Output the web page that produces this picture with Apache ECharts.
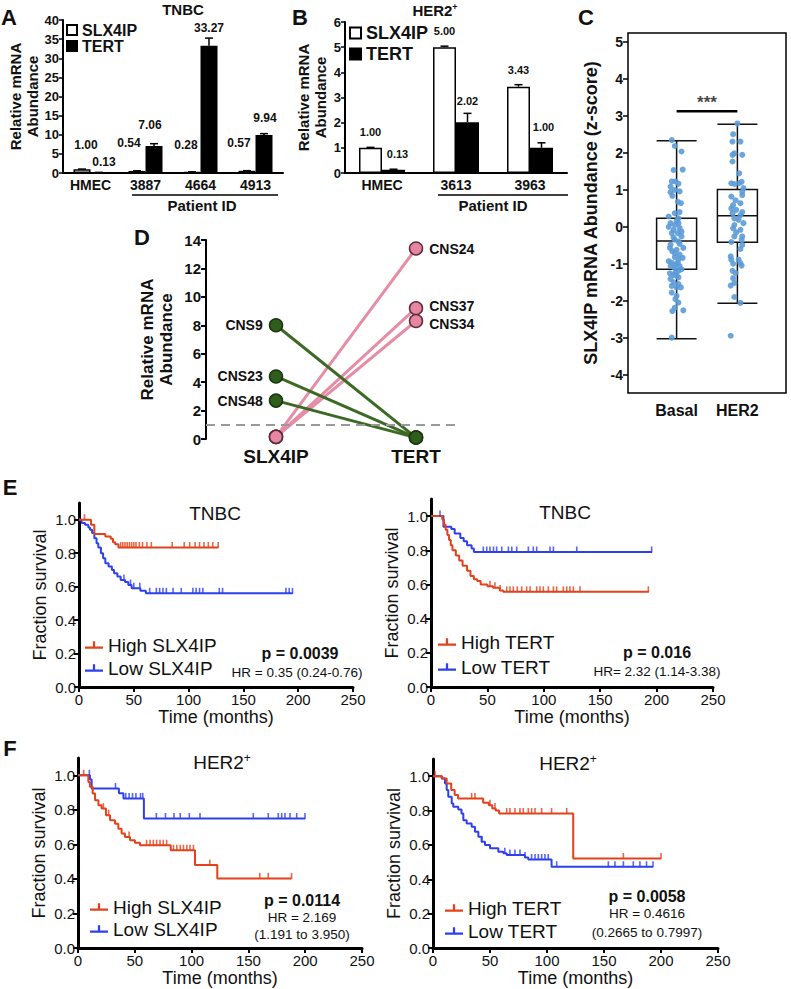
<!DOCTYPE html>
<html><head><meta charset="utf-8">
<script src="https://cdn.jsdelivr.net/npm/echarts@6/dist/echarts.min.js"></script>
<style>html,body{margin:0;padding:0;background:#fff}#c{width:791px;height:989px}</style>
</head><body><div id="c"></div>
<script>
// ---------- Panel A (TNBC qPCR) ----------
const catsA = ['HMEC', '3887', '4664', '4913'];
const slxA = [1.00, 0.54, 0.28, 0.57];
const tertA = [0.13, 7.06, 33.27, 9.94];
const slxErrA = [0.03, 0.04, 0.03, 0.04];
const tertErrA = [0.03, 0.6, 2.0, 0.35];
// ---------- Panel B (HER2+ qPCR) ----------
const catsB = ['HMEC', '3613', '3963'];
const slxB = [1.00, 5.00, 3.43];
const tertB = [0.13, 2.02, 1.00];
const slxErrB = [0.02, 0.04, 0.08];
const tertErrB = [0.02, 0.35, 0.2];
// ---------- Panel C (z-score box plot) ----------
const groupsC = ['Basal', 'HER2'];
const ticksC = [-4, -3, -2, -1, 0, 1, 2, 3, 4, 5];
const boxBasal = [-3.03, -1.15, -0.38, 0.23, 2.33];
const boxHER2 = [-2.07, -0.42, 0.30, 1.01, 2.78];
const sigC = 3.13;
const basalPts = [[0.92,2.35],[0.97,2.19],[1.08,2.04],[0.95,1.54],[1.10,1.55],[0.92,1.23],[0.98,1.23],[1.03,1.17],
 [0.90,0.94],[0.93,0.84],[1.05,0.96],[0.97,1.0],[1.07,0.64],[0.97,0.37],[1.05,0.40],[0.90,0.10],[1.00,0.16],
 [1.03,0.10],[0.95,-0.08],[1.05,-0.03],[0.92,-0.17],[1.02,-0.17],[1.08,-0.26],[0.97,-0.35],[0.90,-0.48],
 [1.05,-0.46],[1.11,-0.57],[1.00,-0.62],[0.93,-0.66],[1.05,-0.75],[0.97,-0.82],[1.03,-0.88],[0.92,-0.97],
 [0.98,-1.02],[1.05,-1.06],[0.90,-1.06],[0.97,-1.12],[1.03,-1.19],[0.89,-1.26],[0.95,-1.30],[1.00,-1.32],
 [0.90,-1.41],[1.03,-1.37],[0.95,-1.50],[1.03,-1.55],[1.00,-1.64],[0.92,-1.78],[0.98,-1.96],[1.03,-2.05],
 [0.93,-2.28],[1.11,-2.26],[0.92,-3.0],[0.87,0.28],[1.03,0.23],[0.97,0.05],[0.87,0.00],[1.08,-0.13],
 [0.95,-0.29],[1.03,-0.40],[0.89,-0.57],[0.97,-0.71],[1.10,-0.84],[0.87,-0.93],[1.02,-0.97],[1.08,-1.15],
 [0.98,-1.24],[0.92,-1.60],[1.07,-1.64],[1.00,-1.87],[0.97,-2.19],[0.90,1.09],[1.02,0.68]];
const her2Pts = [[2.00,2.80],[1.93,2.51],[1.92,2.31],[2.05,2.31],[1.95,1.99],[1.92,1.95],[2.08,1.95],[1.92,1.77],
 [1.90,1.18],[1.95,1.16],[2.07,1.22],[2.03,1.18],[2.08,0.95],[1.90,0.82],[2.08,0.86],[2.05,0.64],[1.93,0.59],
 [1.90,0.50],[1.98,0.46],[1.92,0.37],[2.05,0.32],[1.95,0.23],[2.02,0.19],[2.10,0.10],[1.95,0.05],[1.93,-0.04],
 [2.05,-0.08],[1.95,-0.26],[2.08,-0.26],[2.07,-0.35],[1.90,-0.41],[2.08,-0.49],[1.89,-0.80],[1.90,-0.89],
 [2.02,-0.89],[2.05,-0.98],[1.92,-1.19],[1.93,-1.39],[1.95,-1.52],[1.89,-1.59],[1.95,-1.90],[2.05,-2.06],
 [1.89,-2.95],[2.03,1.45],[1.97,0.72],[2.08,0.40],[1.98,-0.15],[2.05,-0.60],[1.93,-1.0],[2.07,-1.05],
 [1.97,-1.25],[2.10,1.05]];
// ---------- Panel D (paired samples) ----------
const genesD = ['SLX4IP', 'TERT'];
const samplesD = ['CNS24', 'CNS37', 'CNS34', 'CNS9', 'CNS23', 'CNS48'];
const slxD = [0.15, 0.15, 0.15, 8.0, 4.4, 2.7];
const tertD = [13.4, 9.2, 8.3, 0.1, 0.1, 0.1];
const refLineD = 1.0;
// ---------- Panels E/F (Kaplan-Meier) ----------
const kmXTicks = [0, 50, 100, 150, 200, 250];
const kmYTicks = [0, 0.2, 0.4, 0.6, 0.8, 1.0];
const kmE1High = [[0,1],[11,0.97],[14,0.914],[24,0.9],[29,0.886],[31,0.866],[33,0.854],[36,0.834],[127,0.834]];
const kmE1Low = [[0,1],[2.4,0.98],[5.5,0.97],[8.5,0.954],[10,0.94],[12,0.92],[14,0.89],[16,0.86],[17.6,0.834],
 [20,0.80],[22,0.77],[24,0.74],[27,0.72],[30,0.70],[32,0.68],[35,0.66],[38,0.64],[42,0.627],[45,0.61],[48,0.59],
 [56,0.575],[61,0.56],[195,0.56]];
const censE1High = [5,38,40,42,44,46,48,50,52,55,58,62,66,85,96,101,106,110,114,118,122,127];
const censE1Low = [41,47,50,55.5,64.5,70.6,73.6,76.6,79.7,85.8,93.3,103.9,106.9,110,113,128,131,188.8,191.8,194.8];
const kmE2High = [[0,1],[10,0.98],[11.5,0.95],[13,0.92],[14.5,0.89],[16,0.86],[17.5,0.83],[19,0.80],[22,0.77],
 [25,0.74],[28,0.71],[32,0.68],[35,0.65],[38,0.63],[41,0.62],[44,0.60],[50,0.59],[55,0.58],[61,0.565],[64,0.557],[193,0.557]];
const kmE2Low = [[0,1],[11,0.937],[18,0.924],[21,0.898],[26,0.872],[29,0.853],[32,0.83],[36,0.81],[38,0.79],[196,0.79]];
const censE2High = [52.3,56.7,61.2,67.1,70,73,76.5,80.4,84.8,87.8,93.7,96.6,99.6,104,108.5,111.4,117.3,120.3,123.2,126.2,132.1,192.7];
const censE2Low = [8,46.4,49.4,52.3,55.4,58.2,62.7,68.6,71.6,76,86.3,90.7,93.7,105.5,108.5,129.2,195.6];
const kmF1High = [[0,1],[9.1,0.961],[10.5,0.933],[12.9,0.894],[15,0.855],[18,0.827],[20.8,0.807],[24.6,0.769],
 [28.2,0.74],[32.6,0.72],[35.5,0.69],[38.4,0.663],[41.3,0.643],[45.8,0.624],[50.1,0.609],[54.6,0.595],[81.6,0.566],
 [103,0.48],[122.6,0.403],[188,0.403]];
const kmF1Low = [[0,1],[10.5,0.975],[12,0.923],[36,0.896],[40,0.866],[58,0.75],[200,0.75]];
const censF1High = [5,22.3,27,45,60.4,63.4,66.3,69.2,72.2,75.1,78,84,87,90,92.8,95.8,98.6,101.6,116,160,167.5,188];
const censF1Low = [10,33,42,45,48,51,55,57,69,77,84.5,90,98,107.4,154.3,167.5,176.3,179.3,182.2,186.6,192.5,199.8];
const kmF2High = [[0,1],[8,0.987],[12,0.957],[16,0.919],[19,0.89],[22,0.87],[44,0.845],[49,0.831],[52,0.812],
 [55,0.80],[58,0.783],[123,0.521],[200,0.521]];
const kmF2Low = [[0,1],[7.6,0.987],[10.5,0.957],[12,0.919],[13.4,0.88],[16.4,0.841],[17.8,0.822],[22.2,0.806],
 [25,0.783],[26.6,0.744],[29.5,0.725],[33.9,0.705],[36.8,0.676],[39.8,0.647],[42.7,0.618],[45.6,0.599],[50,0.58],
 [57.3,0.56],[61.7,0.551],[64.6,0.541],[80.7,0.527],[83.6,0.515],[104,0.473],[193,0.473]];
const censF2High = [1.8,33.9,36.8,50,54.4,64.6,67.5,71.9,76.3,79.2,83.6,86.5,89.5,95.3,104,117.3,167,200];
const censF2Low = [42.7,63,67.5,71.9,76.3,80.7,86.5,89.5,92.4,95.3,98.2,101.1,108.5,153.8,159.6,167,175.7,181.5,187.3,193];

// ================== rendering ==================
const FONT = '"Liberation Sans", Arial, Helvetica, sans-serif';
const RED = '#E4411C', BLUE = '#2E40EE', INK = '#111';
const PINK = '#E886A2', PINKLINE = '#E58DA7', GREEN = '#2F5E1C', GREENLINE = '#3C6A24';
const chart = echarts.init(document.getElementById('c'), null, {renderer: 'svg', width: 791, height: 989});

function survAt(curve, t) { let v = curve[0][1]; for (const p of curve) { if (p[0] <= t) v = p[1]; else break; } return v; }

const grids = [
  {left: 63, top: 20, width: 220, height: 153},       // 0 A
  {left: 345, top: 22, width: 222, height: 151},      // 1 B
  {left: 628, top: 33, width: 158, height: 360, show: true, borderColor: '#000', borderWidth: 1.5, backgroundColor: 'transparent'}, // 2 C frame
  {left: 646.2, top: 33, width: 121.6, height: 360},  // 3 C boxes
  {left: 206, top: 240, width: 252, height: 199},     // 4 D
  {left: 79, top: 503, width: 274, height: 184},      // 5 E left
  {left: 431, top: 499, width: 282, height: 188},     // 6 E right
  {left: 78, top: 758, width: 284, height: 190},      // 7 F left
  {left: 433, top: 759, width: 285, height: 189}      // 8 F right
];

const boldLbl = (sz) => ({color: INK, fontSize: sz, fontWeight: 'bold', fontFamily: FONT});
function barXAxis(gi, cats) {
  return {type: 'category', gridIndex: gi, data: cats, axisTick: {show: false},
    axisLine: {onZero: false, lineStyle: {color: '#000', width: 2}},
    axisLabel: Object.assign({margin: 5}, boldLbl(14))};
}
function barYAxis(gi, max, interval, gap) {
  return {type: 'value', gridIndex: gi, min: 0, max: max, interval: interval, splitLine: {show: false},
    axisLine: {show: true, onZero: false, lineStyle: {color: '#000', width: 2}},
    axisTick: {show: true, length: 4, lineStyle: {color: '#000', width: 1.5}},
    axisLabel: Object.assign({margin: 4}, boldLbl(13)),
    name: 'Relative mRNA\nAbundance', nameLocation: 'middle', nameGap: gap, nameRotate: 90,
    nameTextStyle: Object.assign({lineHeight: 17}, boldLbl(15))};
}
function kmXAxis(gi) {
  return {type: 'value', gridIndex: gi, min: 0, max: 250, splitLine: {show: false},
    axisLine: {onZero: false, lineStyle: {color: '#000', width: 3}},
    axisTick: {customValues: kmXTicks, length: 5, lineStyle: {color: '#000', width: 2}},
    axisLabel: {customValues: kmXTicks, color: INK, fontSize: 15, margin: 5, fontFamily: FONT},
    name: 'Time (months)', nameLocation: 'middle', nameGap: 21,
    nameTextStyle: {color: INK, fontSize: 18, fontFamily: FONT}};
}
function kmYAxis(gi) {
  return {type: 'value', gridIndex: gi, min: 0, max: 1.1, splitLine: {show: false},
    axisLine: {show: true, onZero: false, lineStyle: {color: '#000', width: 3}},
    axisTick: {show: true, customValues: kmYTicks, length: 5, lineStyle: {color: '#000', width: 2}},
    axisLabel: {customValues: kmYTicks, formatter: v => Number(v).toFixed(1), color: INK, fontSize: 15, margin: 3, fontFamily: FONT},
    name: 'Fraction survival', nameLocation: 'middle', nameGap: 30, nameRotate: 90,
    nameTextStyle: {color: INK, fontSize: 18, fontFamily: FONT}};
}

const xAxes = [
  barXAxis(0, catsA),
  barXAxis(1, catsB),
  {type: 'value', gridIndex: 2, min: 0.2, max: 2.8, splitLine: {show: false}, axisLine: {show: false, onZero: false}, axisTick: {show: false},
    axisLabel: Object.assign({customValues: [1, 2], formatter: v => groupsC[Math.round(v) - 1], margin: 9}, boldLbl(16))},
  {type: 'category', gridIndex: 3, data: groupsC, show: false},
  {type: 'value', gridIndex: 4, min: -0.5, max: 1.3, splitLine: {show: false}, axisLine: {show: false, onZero: false}, axisTick: {show: false},
    axisLabel: Object.assign({customValues: [0, 1], formatter: v => genesD[Math.round(v)], margin: 8}, boldLbl(19))},
  kmXAxis(5), kmXAxis(6), kmXAxis(7), kmXAxis(8)
];
const yAxes = [
  barYAxis(0, 40, 5, 22),
  barYAxis(1, 6, 1, 16),
  {type: 'value', gridIndex: 2, min: -4.5, max: 5.25, splitLine: {show: false}, axisLine: {show: false, onZero: false},
    axisTick: {show: true, customValues: ticksC, length: 5, lineStyle: {color: '#000', width: 1.5}},
    axisLabel: Object.assign({customValues: ticksC, margin: 5}, boldLbl(14)),
    name: 'SLX4IP mRNA Abundance (z-score)', nameLocation: 'middle', nameGap: 28, nameRotate: 90,
    nameTextStyle: boldLbl(18)},
  {type: 'value', gridIndex: 3, min: -4.5, max: 5.25, show: false},
  {type: 'value', gridIndex: 4, min: 0, max: 14, interval: 2, splitLine: {show: false},
    axisLine: {show: true, onZero: false, lineStyle: {color: '#000', width: 2}},
    axisTick: {show: true, length: 5, lineStyle: {color: '#000', width: 2}},
    axisLabel: Object.assign({margin: 5}, boldLbl(15)),
    name: 'Relative mRNA\nAbundance', nameLocation: 'middle', nameGap: 30, nameRotate: 90,
    nameTextStyle: Object.assign({lineHeight: 19}, boldLbl(17))},
  kmYAxis(5), kmYAxis(6), kmYAxis(7), kmYAxis(8)
];

const series = [];
// ---- bars with error bars ----
function barSeries(gi, name, vals, fill, barW, lblSize, dists, shifts) {
  return {type: 'bar', name: name, xAxisIndex: gi, yAxisIndex: gi, barWidth: barW, barGap: '0%',
    itemStyle: {color: fill, borderColor: '#000', borderWidth: 1.5},
    data: vals.map((v, i) => ({value: v, label: {distance: dists[i], offset: [shifts[i], 0]}})),
    label: {show: true, position: 'top', formatter: p => Number(p.value).toFixed(2), color: INK,
      fontSize: lblSize, fontWeight: 'bold', fontFamily: FONT}, z: 2};
}
function errSeries(gi, vals, errs, side, barW, capW) {
  return {type: 'custom', xAxisIndex: gi, yAxisIndex: gi, z: 4, silent: true,
    data: vals.map((v, i) => [i, v, v + errs[i]]),
    renderItem: function (params, api) {
      const b = api.coord([api.value(0), api.value(1)]);
      const t = api.coord([api.value(0), api.value(2)]);
      const x = b[0] + side * barW / 2;
      return {type: 'group', children: [
        {type: 'line', shape: {x1: x, y1: b[1], x2: x, y2: t[1]}, style: {stroke: '#000', lineWidth: 1.5}},
        {type: 'line', shape: {x1: x - capW / 2, y1: t[1], x2: x + capW / 2, y2: t[1]}, style: {stroke: '#000', lineWidth: 1.5}}
      ]};
    }};
}
series.push(barSeries(0, 'SLX4IP', slxA, '#fff', 17, 12, [18, 22, 21, 22], [4, -8, -6, -8]));
series.push(barSeries(0, 'TERT', tertA, '#000', 17, 12, [4, 15, 12, 11], [5, -4, 0, 1]));
series.push(errSeries(0, slxA, slxErrA, -1, 17, 8));
series.push(errSeries(0, tertA, tertErrA, 1, 17, 8));
series.push(barSeries(1, 'SLX4IP', slxB, '#fff', 23, 11, [10, 11, 11], [0, 0, 0]));
series.push(barSeries(1, 'TERT', tertB, '#000', 23, 11, [10, 16, 15], [4, 0, 2]));
series.push(errSeries(1, slxB, slxErrB, -1, 23, 8));
series.push(errSeries(1, tertB, tertErrB, 1, 23, 8));

// ---- box plot ----
series.push({type: 'boxplot', xAxisIndex: 3, yAxisIndex: 3, boxWidth: [40, 40], z: 2, silent: true,
  itemStyle: {color: 'rgba(0,0,0,0)', borderColor: '#111', borderWidth: 1.5},
  data: [boxBasal, boxHER2]});
[basalPts, her2Pts].forEach(pts => series.push({type: 'scatter', xAxisIndex: 2, yAxisIndex: 2, z: 3, silent: true,
  symbolSize: 6, itemStyle: {color: '#5B9BD8', opacity: 0.9}, data: pts}));
series.push({type: 'line', xAxisIndex: 2, yAxisIndex: 2, symbol: 'none', silent: true, z: 3,
  lineStyle: {color: '#000', width: 2.5}, data: [[1, sigC], [2, sigC]]});
series.push({type: 'scatter', xAxisIndex: 2, yAxisIndex: 2, symbolSize: 1, silent: true, itemStyle: {color: 'rgba(0,0,0,0)'},
  data: [[1.5, sigC]], label: {show: true, position: 'top', distance: 0, formatter: '***', color: INK, fontSize: 17, fontWeight: 'bold', fontFamily: FONT}});

// ---- panel D ----
const labelNudgeD = {CNS37: -2, CNS34: 3};
samplesD.forEach((s, i) => {
  const up = tertD[i] > slxD[i];
  const col = up ? PINK : GREEN;
  const lbl = {show: true, formatter: s, position: up ? 'right' : 'left', distance: 6,
    offset: [0, labelNudgeD[s] || 0],
    color: INK, fontSize: 14, fontWeight: 'bold', fontFamily: FONT};
  const ser = {type: 'line', xAxisIndex: 4, yAxisIndex: 4, silent: true, z: up ? 3 : 4,
    symbol: 'circle', symbolSize: 13,
    lineStyle: {color: up ? PINKLINE : GREENLINE, width: 3},
    itemStyle: {color: col, borderColor: up ? '#5b2e3a' : '#1c3510', borderWidth: 1.5},
    data: [
      {value: [0, slxD[i]], label: up ? {show: false} : lbl},
      {value: [1, tertD[i]], label: up ? lbl : {show: false}}
    ]};
  if (i === 0) {
    ser.markLine = {silent: true, symbol: 'none', label: {show: false},
      lineStyle: {color: '#9a9a9a', type: [9, 6], width: 2}, data: [{yAxis: refLineD}]};
  }
  series.push(ser);
});

// ---- KM panels ----
function kmPanel(gi, hi, lo, hiC, loC, names) {
  const line = (name, d, col) => ({type: 'line', name: name, xAxisIndex: gi, yAxisIndex: gi, step: 'end', data: d,
    symbol: 'none', showSymbol: false, silent: true, lineStyle: {color: col, width: 2}, itemStyle: {color: col}, z: 3});
  const cens = (c, d, col) => ({type: 'scatter', xAxisIndex: gi, yAxisIndex: gi, silent: true, z: 3,
    symbol: 'rect', symbolSize: [1.6, 6], symbolOffset: [0, -2.5], itemStyle: {color: col},
    data: c.map(t => [t, survAt(d, t)])});
  series.push(line(names[1], lo, BLUE), line(names[0], hi, RED), cens(loC, lo, BLUE), cens(hiC, hi, RED));
}
kmPanel(5, kmE1High, kmE1Low, censE1High, censE1Low, ['High SLX4IP', 'Low SLX4IP']);
kmPanel(6, kmE2High, kmE2Low, censE2High, censE2Low, ['High TERT', 'Low TERT']);
kmPanel(7, kmF1High, kmF1Low, censF1High, censF1Low, ['High SLX4IP', 'Low SLX4IP']);
kmPanel(8, kmF2High, kmF2Low, censF2High, censF2Low, ['High TERT', 'Low TERT']);

const KMICON = 'path://M0,6h20v2.5h-20z M8.75,0h2.5v7h-2.5z';
function kmLegend(left, top, gap, names) {
  return {left: left, top: top, orient: 'vertical', itemGap: gap, itemWidth: 18, itemHeight: 8, icon: KMICON,
    selectedMode: false, data: names, padding: 0,
    textStyle: {color: INK, fontSize: 19, fontFamily: FONT, lineHeight: 20}};
}
const legends = [
  {left: 66, top: 22, orient: 'vertical', itemGap: 0, itemWidth: 10, itemHeight: 10, icon: 'rect', selectedMode: false,
    data: ['SLX4IP', 'TERT'], padding: 0, textStyle: Object.assign({lineHeight: 15}, boldLbl(16))},
  {left: 349, top: 23, orient: 'vertical', itemGap: 1, itemWidth: 11, itemHeight: 11, icon: 'rect', selectedMode: false,
    data: ['SLX4IP', 'TERT'], padding: 0, textStyle: Object.assign({lineHeight: 20}, boldLbl(18))},
  kmLegend(85, 635, 3, ['High SLX4IP', 'Low SLX4IP']),
  kmLegend(438, 632, 5, ['High TERT', 'Low TERT']),
  kmLegend(90, 897, 2, ['High SLX4IP', 'Low SLX4IP']),
  kmLegend(445, 898, 3, ['High TERT', 'Low TERT'])
];

function T(x, y, text, size, bold, extra) {
  return {type: 'text', x: x, y: y, silent: true, z: 10,
    style: Object.assign({text: text, fontSize: size, fontWeight: bold ? 'bold' : 'normal', fontFamily: FONT, fill: INK,
      align: 'center', verticalAlign: 'middle', textAlign: 'center', textVerticalAlign: 'middle'}, extra || {})};
}
function supTitle(x, y, size, bold) {
  return T(x, y, 'HER2{s|+}', size, bold, {rich: {s: {fontSize: Math.round(size * 0.62), fontWeight: bold ? 'bold' : 'normal',
    fontFamily: FONT, fill: INK, verticalAlign: 'top', padding: [0, 0, Math.round(size * 0.45), 0]}}});
}
function L(x1, y1, x2, y2) {
  return {type: 'line', silent: true, shape: {x1: x1, y1: y1, x2: x2, y2: y2}, style: {stroke: '#000', lineWidth: 1.5}};
}
const graphics = [
  T(9, 17, 'A', 22, true), T(300, 17, 'B', 22, true), T(586, 17, 'C', 22, true),
  T(142, 237, 'D', 22, true), T(10, 487, 'E', 22, true), T(10, 748, 'F', 22, true),
  T(183, 9, 'TNBC', 15, true), supTitle(435, 10, 15, true),
  L(132, 195, 278, 195), T(202, 205, 'Patient ID', 15, true),
  L(438, 195, 568, 195), T(493, 205, 'Patient ID', 15, true),
  T(215, 513, 'TNBC', 19, false), T(565, 512, 'TNBC', 19, false),
  supTitle(222, 762, 19, false), supTitle(568, 763, 19, false),
  T(300, 653, 'p = 0.0039', 16, true), T(297, 672, 'HR = 0.35 (0.24-0.76)', 13.5, false),
  T(657, 652, 'p = 0.016', 16, true), T(657, 671, 'HR= 2.32 (1.14-3.38)', 13.5, false),
  T(302, 900, 'p = 0.0114', 16, true), T(302, 917, 'HR = 2.169', 13.5, false), T(302, 934, '(1.191 to 3.950)', 13.5, false),
  T(647, 896, 'p = 0.0058', 16, true), T(647, 913, 'HR = 0.4616', 13.5, false), T(647, 932, '(0.2665 to 0.7997)', 13.5, false)
];

chart.setOption({
  animation: false,
  backgroundColor: '#fff',
  textStyle: {fontFamily: FONT},
  grid: grids,
  xAxis: xAxes,
  yAxis: yAxes,
  legend: legends,
  series: series,
  graphic: graphics
});
</script>
</body></html>
